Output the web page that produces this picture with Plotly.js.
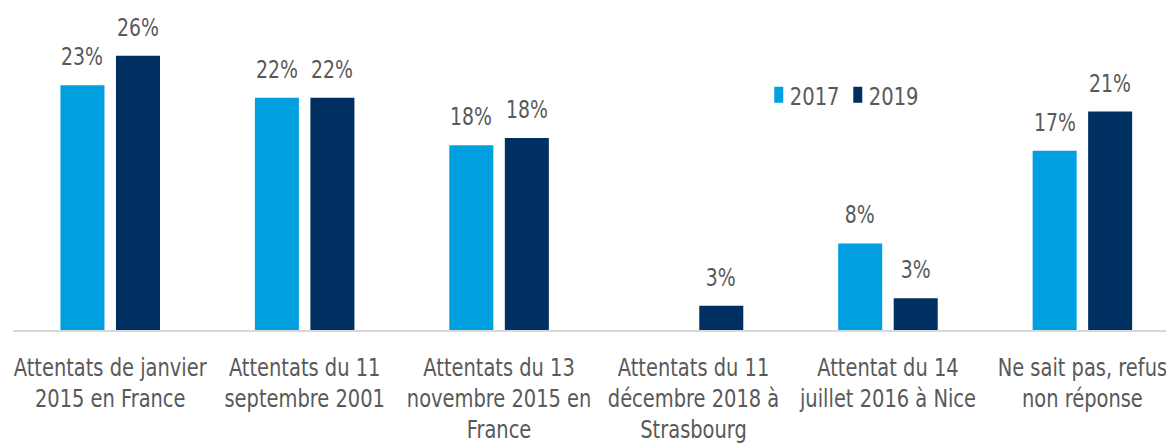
<!DOCTYPE html>
<html>
<head>
<meta charset="utf-8">
<script src="https://cdn.plot.ly/plotly-3.0.1.min.js"></script>
<style>html,body{margin:0;padding:0;background:#fff;}#chart{width:1166px;height:443px;}</style>
</head>
<body>
<div id="chart"></div>
<script>
const categories = [
  "Attentats de janvier<br>2015 en France",
  "Attentats du 11<br>septembre 2001",
  "Attentats du 13<br>novembre 2015 en<br>France",
  "Attentats du 11<br>décembre 2018 à<br>Strasbourg",
  "Attentat du 14<br>juillet 2016 à Nice",
  "Ne sait pas, refus<br>non réponse"
];
const values2017 = [23.2, 22.0, 17.5, null, 8.2, 17.0];
const values2019 = [26.0, 22.0, 18.2, 2.3, 3.0, 20.7];
const labels2017 = ["23%", "22%", "18%", "", "8%", "17%"];
const labels2019 = ["26%", "22%", "18%", "3%", "3%", "21%"];

const FONT = '"DejaVu Sans Condensed", "DejaVu Sans", sans-serif';
const TXT = '#595959';
const C17 = '#009FE0';
const C19 = '#002F62';
const FS = 25;

const traces = [
  {type: 'bar', name: '2017', x: categories, y: values2017, marker: {color: C17}, hoverinfo: 'none'},
  {type: 'bar', name: '2019', x: categories, y: values2019, marker: {color: C19}, hoverinfo: 'none'}
];

const annotations = [];
const slotPx = 55.5;
function addLabels(vals, labels, shift) {
  vals.forEach((v, i) => {
    if (v === null || !labels[i]) return;
    annotations.push({
      xref: 'x', yref: 'y', x: categories[i], y: v, xshift: shift,
      yanchor: 'bottom', yshift: 12, showarrow: false, text: labels[i],
      font: {family: FONT, size: FS, color: TXT}
    });
  });
}
addLabels(values2017, labels2017, -slotPx / 2);
addLabels(values2019, labels2019, slotPx / 2);

const layout = {
  width: 1166, height: 443,
  margin: {l: 13, r: 0, t: 20, b: 113},
  paper_bgcolor: '#fff', plot_bgcolor: '#fff',
  barmode: 'group', bargap: 0.429, bargroupgap: 0.207,
  font: {family: FONT, size: FS, color: TXT},
  xaxis: {
    range: [-0.5, 5.43], showline: true, linecolor: '#d9d9d9', linewidth: 2,
    ticks: '', showgrid: false, zeroline: false, fixedrange: true, tickangle: 0,
    ticklabelstandoff: 14,
    tickfont: {family: FONT, size: FS, color: TXT}
  },
  yaxis: {range: [0, 29.38], visible: false, showgrid: false, zeroline: false, fixedrange: true},
  showlegend: true,
  legend: {
    orientation: 'h', x: 0.639, y: 0.758, xanchor: 'left', yanchor: 'middle',
    font: {family: FONT, size: FS, color: TXT}, itemwidth: 30,
    entrywidth: 34, entrywidthmode: 'pixels'
  },
  annotations: annotations
};

function squeeze(sel, s) {
  document.querySelectorAll(sel).forEach(t => {
    const x = parseFloat(t.getAttribute('x') || '0');
    const tr = t.getAttribute('transform') || '';
    t.setAttribute('transform', tr + ` translate(${x},0) scale(${s},1) translate(${-x},0)`);
  });
}

Plotly.newPlot('chart', traces, layout, {displayModeBar: false, staticPlot: true}).then(() => {
  squeeze('#chart .xtick text', 0.865);
  squeeze('#chart .legendtext', 0.87);
  squeeze('#chart .annotation-text', 0.84);
  document.querySelectorAll('#chart .xtick text tspan.line').forEach(sp => {
    const dy = sp.getAttribute('dy');
    if (dy && dy.endsWith('em')) {
      const v = parseFloat(dy);
      if (v) sp.setAttribute('dy', (v * 0.955) + 'em');
    }
  });
  document.querySelectorAll('#chart .legend [clip-path]').forEach(e => e.removeAttribute('clip-path'));
  document.querySelectorAll('#chart .legendpoints').forEach(g => {
    const tr = g.getAttribute('transform') || '';
    g.setAttribute('transform', tr + ' translate(9,0)');
    g.querySelectorAll('path').forEach(p => p.setAttribute('d', 'M4.5,8H-4.5V-8H4.5Z'));
  });
});
</script>
</body>
</html>
